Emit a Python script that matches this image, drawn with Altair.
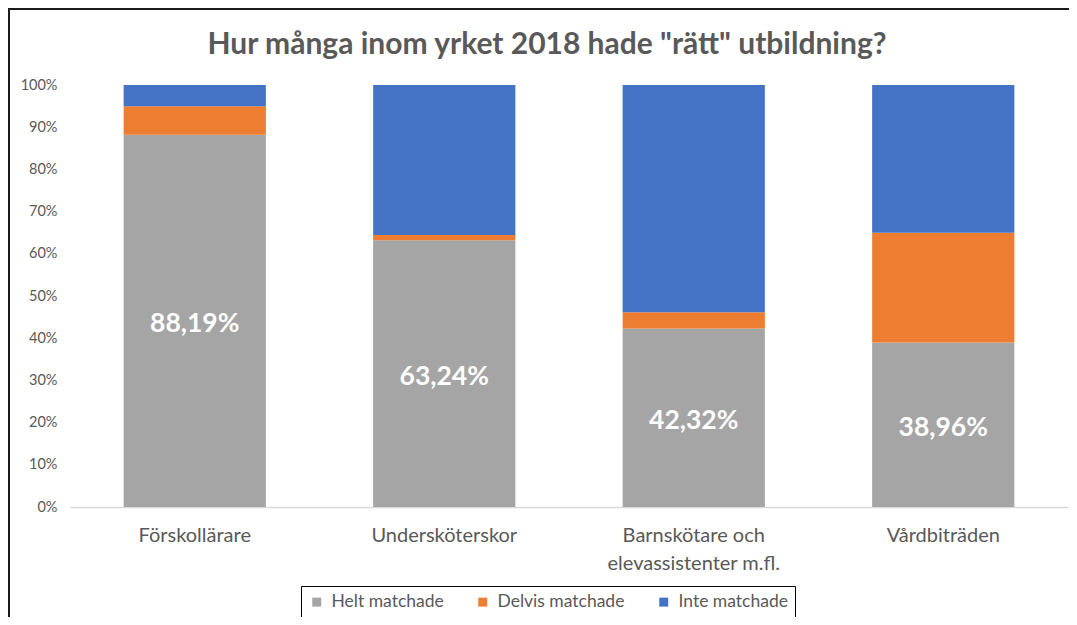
import altair as alt
import pandas as pd

categories = ["Förskollärare", "Undersköterskor", "Barnskötare och\nelevassistenter m.fl.", "Vårdbiträden"]
series = ["Helt matchade", "Delvis matchade", "Inte matchade"]
helt = [88.19, 63.24, 42.32, 38.96]
delvis = [6.8, 1.2, 3.8, 26.0]
colors = ["#A5A5A5", "#ED7D31", "#4472C4"]
title_text = "Hur många inom yrket 2018 hade \"rätt\" utbildning?"

rows = []
for i, c in enumerate(categories):
    vals = [helt[i], delvis[i], 100 - helt[i] - delvis[i]]
    for j, s in enumerate(series):
        rows.append({"cat": c, "serie": s, "idx": j, "v": vals[j] / 100})
df = pd.DataFrame(rows)

lab = pd.DataFrame({
    "cat": categories,
    "mid": [h / 200 for h in helt],
    "txt": [f"{h:.2f}".replace(".", ",") + "%" for h in helt],
})

FONT = "Lato"
GRAY = "#595959"

x_enc = alt.X("cat:N", sort=categories, title=None,
              scale=alt.Scale(paddingInner=0.43, paddingOuter=0.215),
              axis=alt.Axis(labelAngle=0, labelFontSize=20, labelColor=GRAY, labelFont=FONT,
                            domainColor="#D9D9D9", domainWidth=1.5, ticks=False, labelLimit=0,
                            labelExpr="split(datum.label, '\\n')",
                            labelPadding=28, labelLineHeight=28, labelBaseline="middle"))

bars = alt.Chart(df).mark_bar().encode(
    x=x_enc,
    y=alt.Y("v:Q", stack="zero", title=None,
            scale=alt.Scale(domain=[0, 1], nice=False),
            axis=alt.Axis(format="0%", values=[i / 10 for i in range(11)], grid=False,
                          domain=False, ticks=False, labelFontSize=14.5, labelColor=GRAY,
                          labelFont=FONT, labelPadding=13)),
    color=alt.Color("serie:N", sort=series,
                    scale=alt.Scale(domain=series, range=colors),
                    legend=alt.Legend(title=None, orient="none", legendX=231, legendY=501,
                                      direction="horizontal", columns=3, symbolType="square",
                                      symbolSize=80, symbolStrokeWidth=0, labelFontSize=17.5,
                                      labelColor=GRAY, labelFont=FONT, strokeColor="black",
                                      padding=7, columnPadding=30, labelOffset=6)),
    order=alt.Order("idx:Q", sort="ascending"),
)

labels = alt.Chart(lab).mark_text(color="white", fontWeight="bold", fontSize=26.5,
                                  font=FONT, baseline="middle", dy=3).encode(
    x=alt.X("cat:N", sort=categories),
    y=alt.Y("mid:Q"),
    text="txt:N",
)

title = alt.Chart(pd.DataFrame({"t": [title_text]})).mark_text(
    fontSize=30, font=FONT, fontWeight="bold", color=GRAY, baseline="middle", align="center"
).encode(x=alt.value(477), y=alt.value(-40), text="t:N")

frame = alt.Chart(pd.DataFrame({"a": [0]})).mark_rect(
    fill=None, stroke="#1a1a1a", strokeWidth=2).encode(
    x=alt.value(-61), y=alt.value(-76), x2=alt.value(1100), y2=alt.value(700))

chart = alt.layer(frame, title, bars, labels).properties(
    width=998, height=422,
    padding={"left": 62, "top": 77, "right": 1, "bottom": 110},
    autosize=alt.AutoSizeParams(type="none"),
).configure_view(stroke=None)

chart.save("out.html", embed_options={"renderer": "svg", "actions": False})
